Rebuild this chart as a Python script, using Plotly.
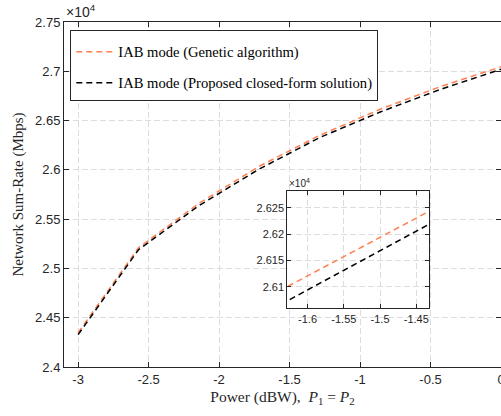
import plotly.graph_objects as go

# Transmit power per node (dBW), P1 = P2
power_dbw = [-3.0, -2.5714, -2.1429, -1.7143, -1.2857, -0.8571, -0.4286, 0.0]

# Network sum-rate (Mbps)
rate_genetic = [24348, 25210, 25660, 26037, 26351, 26615, 26845, 27046]
rate_closed_form = [24328, 25190, 25637, 26009, 26328, 26587, 26817, 27020]

# Tick positions / labels (labels shown in units of 10^4 Mbps)
main_xticks = [-3, -2.5, -2, -1.5, -1, -0.5, 0]
main_yticks = [24000, 24500, 25000, 25500, 26000, 26500, 27000, 27500]
main_ytext = ["2.4", "2.45", "2.5", "2.55", "2.6", "2.65", "2.7", "2.75"]
inset_xticks = [-1.6, -1.55, -1.5, -1.45]
inset_yticks = [26100, 26150, 26200, 26250]
inset_ytext = ["2.61", "2.615", "2.62", "2.625"]

ORANGE = "#FF7F50"
BLACK = "#000000"
AXIS = "#262626"
GRID = "#DCDCDC"
SANS = "Liberation Sans, Arial, sans-serif"
SERIF = "Liberation Serif, Times New Roman, serif"

series = [
    ("IAB mode (Genetic algorithm)", rate_genetic, ORANGE, "g1"),
    ("IAB mode (Proposed closed-form solution)", rate_closed_form, BLACK, "g2"),
]

fig = go.Figure()
for name, vals, color, grp in series:
    fig.add_trace(go.Scatter(
        x=power_dbw, y=vals, mode="lines", name=name, legendgroup=grp,
        line=dict(color=color, width=1.5, dash="6px,4px"),
        xaxis="x", yaxis="y",
    ))
for name, vals, color, grp in series:
    fig.add_trace(go.Scatter(
        x=power_dbw, y=vals, mode="lines", name=name, showlegend=False,
        line=dict(color=color, width=1.5, dash="6px,4px"),
        xaxis="x2", yaxis="y2",
    ))
# placeholder trace so the right-hand tick axis is drawn
fig.add_trace(go.Scatter(x=[None], y=[None], xaxis="x", yaxis="y3",
                         showlegend=False, hoverinfo="skip"))

common = dict(showgrid=True, gridcolor=GRID, griddash="6px,3px", gridwidth=1,
              showline=True, linecolor=AXIS, linewidth=1, ticks="inside",
              tickcolor=AXIS, zeroline=False, automargin=False)

fig.update_layout(
    width=501, height=416,
    margin=dict(l=64, r=0, t=22, b=49),
    paper_bgcolor="white", plot_bgcolor="white",
    xaxis=dict(domain=[0, 1], range=[-3.1, 0], tickvals=main_xticks,
               ticktext=[f"{v:g}" for v in main_xticks], mirror="ticks",
               ticklen=5, ticklabeloverflow="allow",
               tickfont=dict(family=SANS, size=13, color=AXIS),
               title=dict(text="Power (dBW),  <i>P</i><sub>1</sub> = <i>P</i><sub>2</sub>",
                          font=dict(family=SERIF, size=15.5, color=AXIS), standoff=5),
               **common),
    yaxis=dict(domain=[0, 1], range=[24000, 27500], tickvals=main_yticks,
               ticktext=main_ytext, ticklen=5,
               tickfont=dict(family=SANS, size=13, color=AXIS),
               title=dict(text="Network Sum-Rate (Mbps)",
                          font=dict(family=SERIF, size=15, color=AXIS), standoff=7),
               **common),
    yaxis3=dict(overlaying="y", side="right", range=[24000, 27500],
                tickvals=main_yticks, showticklabels=False, ticks="inside",
                ticklen=5, tickcolor=AXIS, showgrid=False, showline=False,
                zeroline=False, automargin=False),
    xaxis2=dict(domain=[0.511, 0.836], anchor="y2", range=[-1.628, -1.432],
                tickvals=inset_xticks, ticktext=[f"{v:g}" for v in inset_xticks],
                mirror="ticks", ticklen=4,
                tickfont=dict(family=SANS, size=11, color=AXIS), **common),
    yaxis2=dict(domain=[0.170, 0.510], anchor="x2", range=[26059, 26282],
                tickvals=inset_yticks, ticktext=inset_ytext,
                mirror="ticks", ticklen=4,
                tickfont=dict(family=SANS, size=11, color=AXIS), **common),
    legend=dict(x=0.0144, y=0.978, xanchor="left", yanchor="top",
                bgcolor="white", bordercolor=AXIS, borderwidth=1,
                traceorder="grouped", tracegroupgap=9, itemwidth=37,
                title=dict(text=" ", font=dict(size=4)),
                font=dict(family=SERIF, size=14.6, color="#000000")),
    shapes=[dict(type="rect", xref="x2 domain", yref="y2 domain",
                 x0=0, x1=1, y0=0, y1=1, layer="below",
                 fillcolor="white", line=dict(width=0))],
    annotations=[
        dict(text="×10<sup>4</sup>", xref="paper", yref="paper", x=0, y=1,
             xanchor="left", yanchor="bottom", showarrow=False,
             font=dict(family=SANS, size=14, color=AXIS)),
        dict(text="×10<sup>4</sup>", xref="x2 domain", yref="y2 domain", x=0, y=1,
             xanchor="left", yanchor="bottom", showarrow=False,
             font=dict(family=SANS, size=10, color=AXIS)),
    ],
)

fig.write_html("out.html")
